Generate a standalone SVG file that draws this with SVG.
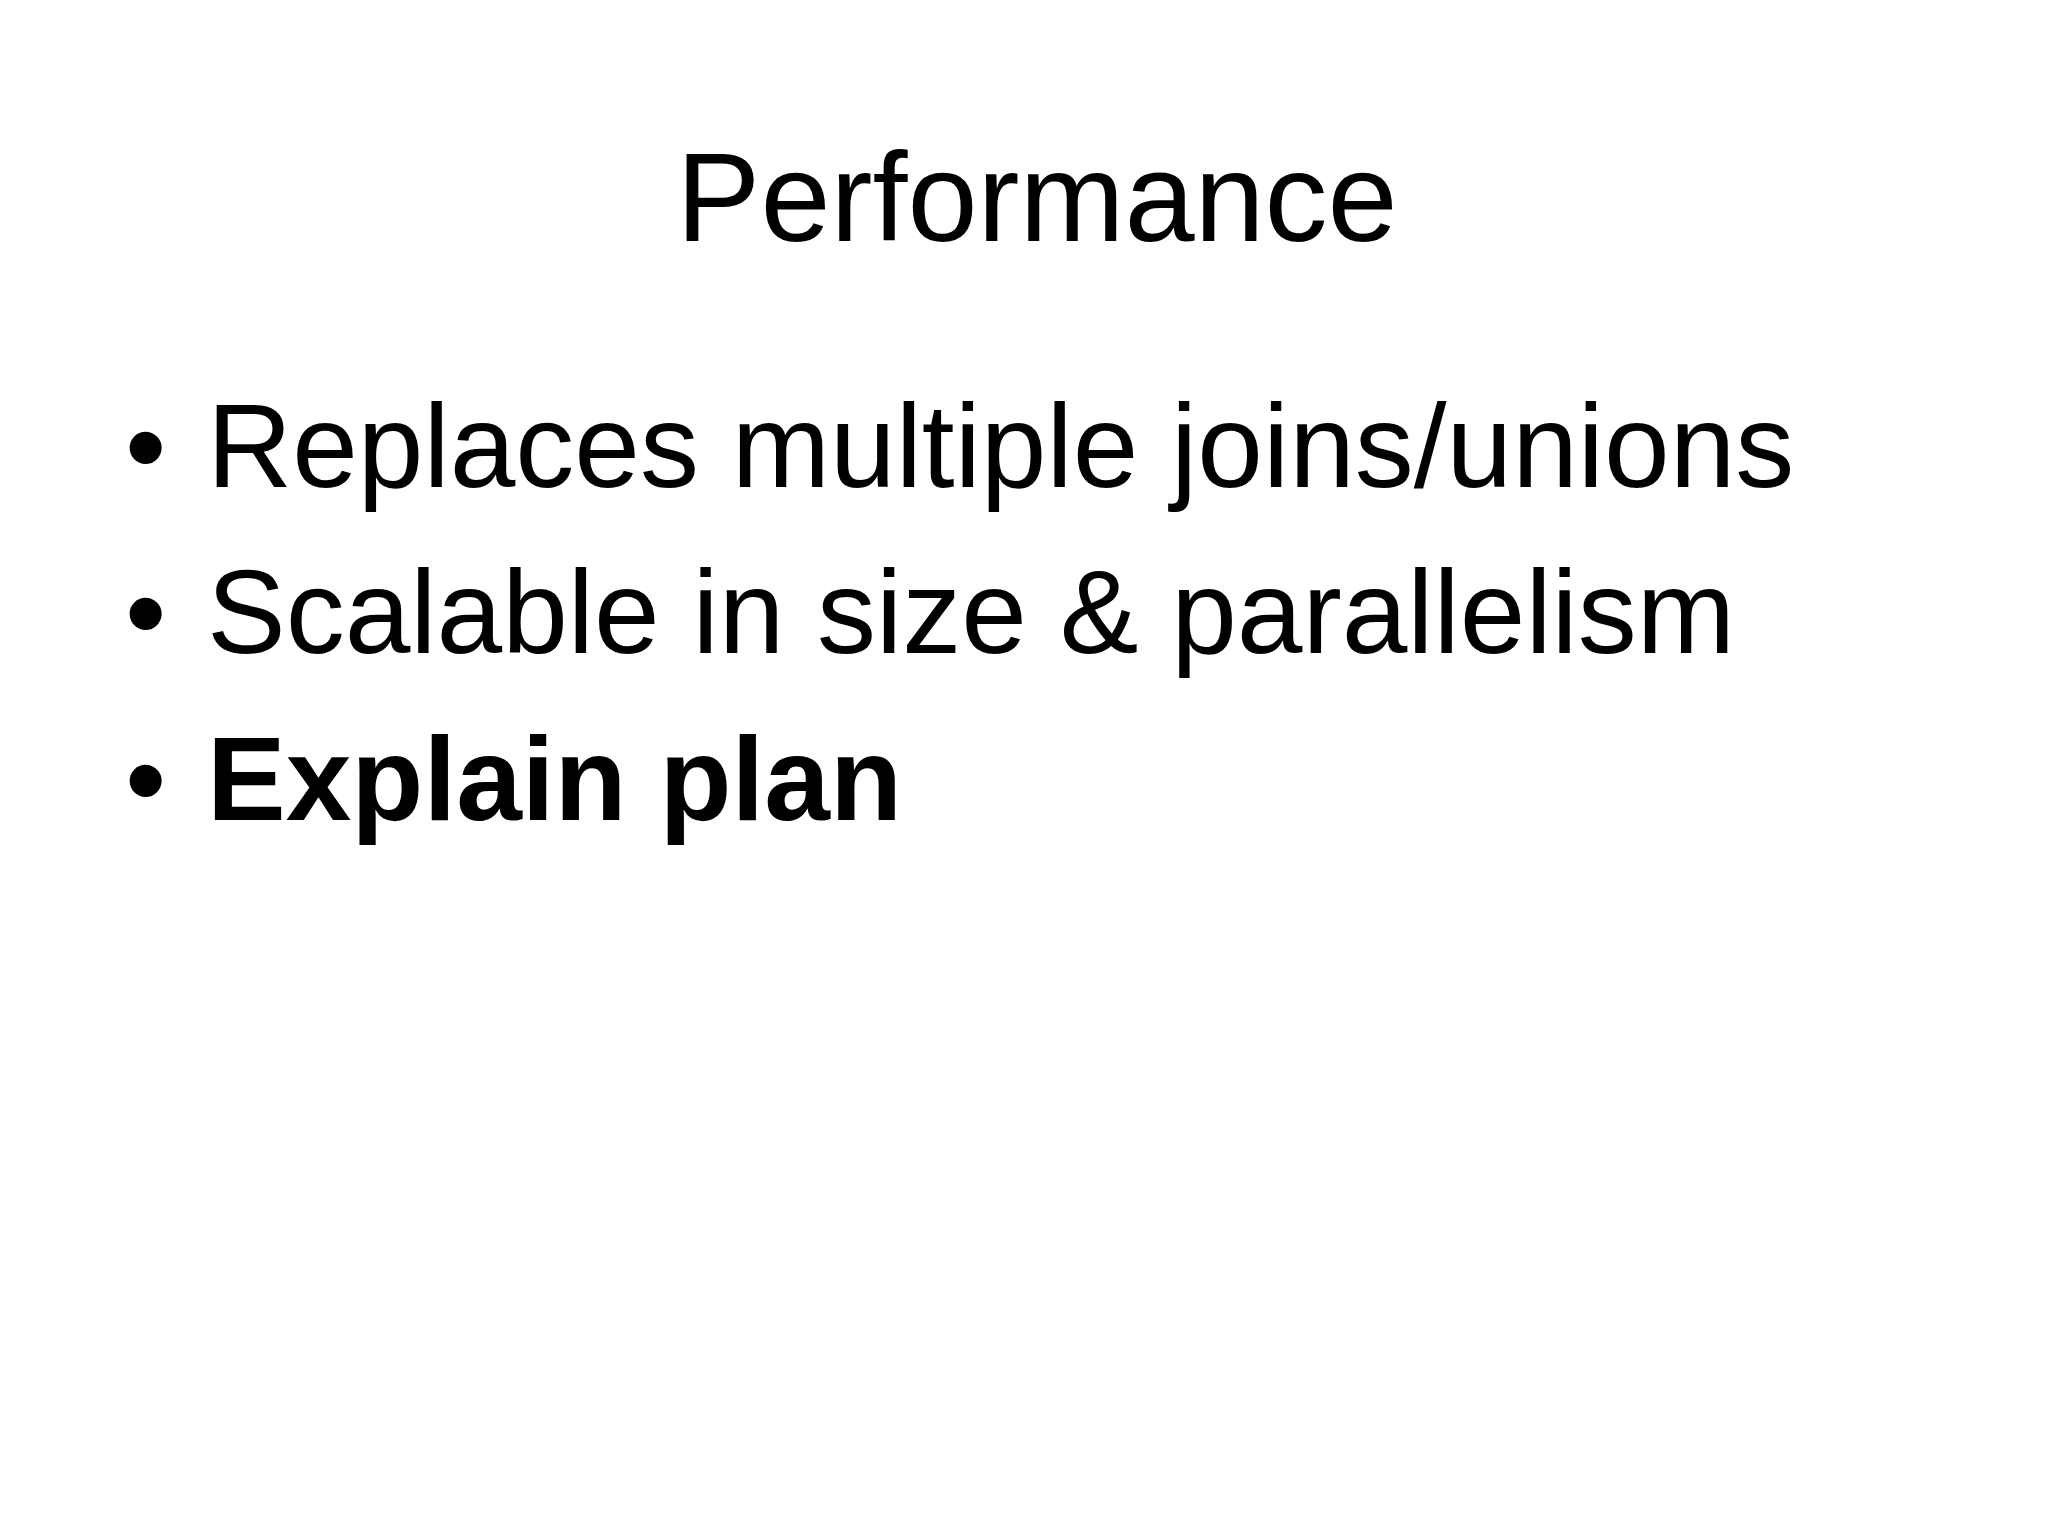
<svg xmlns="http://www.w3.org/2000/svg" width="2048" height="1536" viewBox="0 0 2048 1536">
<style>
text{font-family:"Liberation Sans",Arial,sans-serif;fill:#000}
.b{font-size:118px}
</style>
<rect width="2048" height="1536" fill="#fff"/>
<g id="title"><text x="1037" y="241" font-size="126" text-anchor="middle">Performance</text></g>
<g id="bullets">
<text class="b" x="125" y="487">•</text><text class="b" x="207" y="487">Replaces multiple joins/unions</text>
<text class="b" x="125" y="653">•</text><text class="b" x="207" y="653">Scalable in size &amp; parallelism</text>
<text class="b" x="125" y="820">•</text><text class="b" x="207" y="820" font-weight="bold">Explain plan</text>
</g>
</svg>
